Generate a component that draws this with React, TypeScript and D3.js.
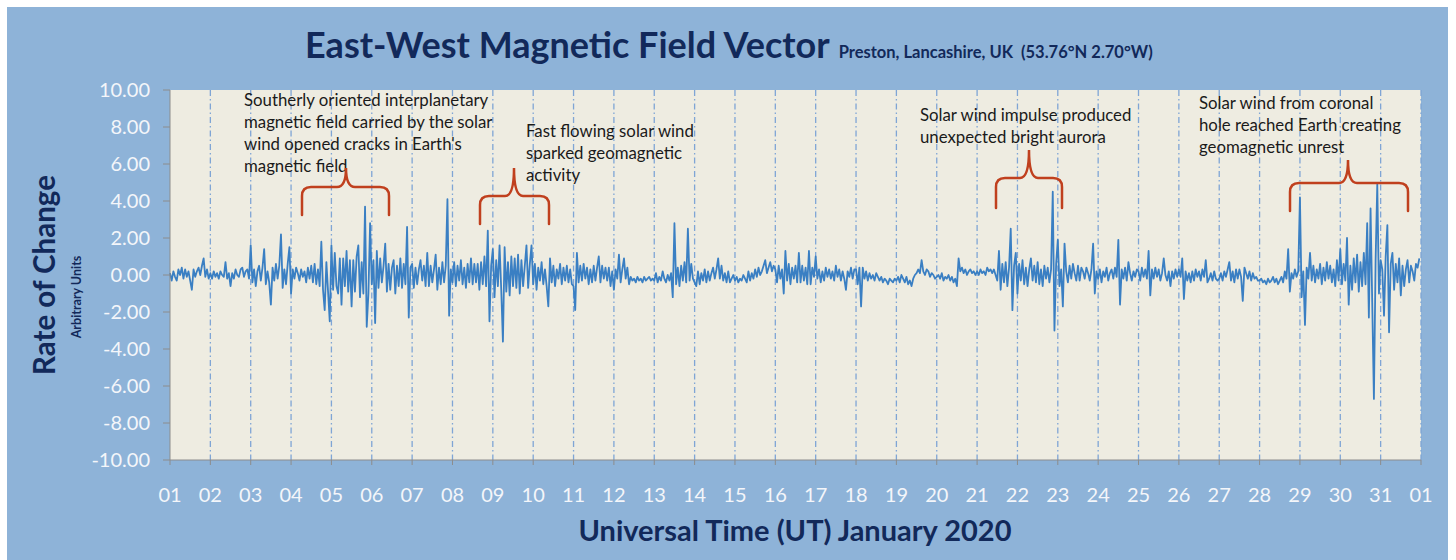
import React from "react";
import * as d3 from "d3";

// ---- Data: East-West rate of change, 24 samples per day ----
const jan01 = [0.1, -0.3, 0.2, -0.1, -0.3, 0.3, 0.0, 0.4, -0.2, 0.3, -0.1, 0.2, -0.3, -0.8, 0.3, -0.1, 0.2, 0.4, 0.0, 0.5, 0.9, -0.1, 0.3, -0.2];
const jan02 = [0.1, -0.2, 0.2, -0.1, 0.1, -0.2, 0.2, 0.0, -0.1, 0.7, -0.2, 0.1, -0.6, 0.1, -0.2, 0.3, 0.0, -0.1, 0.3, 0.4, -0.1, 0.2, 0.3, -0.2];
const jan03 = [1.6, -0.4, 0.3, -0.6, 0.2, 0.5, -0.3, 0.4, 1.4, -0.5, 0.2, -0.4, -1.6, 0.4, -0.3, 0.6, -0.2, 0.5, 2.2, -0.7, 0.3, -0.5, 0.6, 1.5];
const jan04 = [-1.0, 0.3, -0.2, 0.4, 0.1, -0.3, 0.3, -0.1, 0.2, -0.4, 0.4, -0.2, 0.5, -0.4, 0.6, -0.5, 0.3, -0.6, 1.8, -0.8, -1.9, 0.7, -0.9, -2.5];
const jan05 = [1.6, -0.8, 1.2, -0.6, -1.0, 0.9, -1.6, 0.9, -0.6, 1.3, -0.9, 0.8, -1.7, 0.8, -0.9, 1.0, 1.6, -1.2, 0.7, -1.0, 3.7, -2.8, -1.0, 2.8];
const jan06 = [-0.5, 0.8, -2.6, 1.3, -0.7, 0.9, -0.4, 0.5, 1.7, -0.9, 0.6, -0.8, 0.4, 0.8, -1.0, 0.5, -0.6, 0.9, -0.7, 0.6, -0.5, 2.6, -2.3, 0.4];
const jan07 = [0.6, -0.7, 0.4, -0.5, 0.3, 0.8, -0.3, 0.5, -0.6, 1.2, -0.6, 0.5, -0.4, 0.3, 1.1, -0.8, 0.4, -0.5, 0.7, -0.4, 0.5, 4.1, -2.2, 0.3];
const jan08 = [-0.4, 0.7, -0.6, 0.5, -0.3, 0.8, -0.5, 0.4, -0.7, 0.6, -0.4, 0.9, -0.5, 0.6, -0.4, 0.6, -0.8, 0.7, -0.5, 1.0, -0.6, 2.4, -2.5, 0.5];
const jan09 = [1.4, -1.2, 0.8, -0.6, 1.6, -0.8, -3.6, 1.5, -0.9, 0.7, -1.1, 1.0, -0.6, 0.9, -0.7, 1.1, -1.0, 0.8, -0.6, 0.5, 1.6, -0.7, 0.6, 1.6];
const jan10 = [-0.5, 0.6, -0.8, 0.4, -0.3, 0.7, -0.5, 0.3, -0.6, -1.7, 0.9, -0.4, 0.5, -0.6, 0.3, -0.2, 0.6, -0.5, 0.4, -0.3, 0.5, -0.4, 0.3, -0.5];
const jan11 = [-0.6, -1.9, 1.2, -0.4, 0.5, -0.3, 0.6, -0.2, 0.4, -0.5, 0.3, -0.4, 0.5, -0.3, 0.4, 1.0, -0.4, 0.5, -0.2, 0.4, -0.3, 0.4, -0.6, 0.2];
const jan12 = [-0.8, 0.3, -0.2, 1.1, -0.4, 0.3, 0.9, -0.2, 0.4, -0.5, -0.1, -0.3, -0.2, -0.4, -0.1, -0.3, -0.2, -0.4, -0.1, -0.3, -0.2, -0.1, -0.3, -0.2];
const jan13 = [-0.3, 0.1, -0.4, -0.1, -0.3, 0.2, -0.2, -0.4, 0.0, -0.3, 0.1, -1.2, 2.8, -0.5, 0.4, -0.6, 0.5, -0.3, 0.7, -0.4, 2.5, -0.3, 0.6, -0.2];
const jan14 = [-0.4, -0.6, 0.2, -0.5, 0.1, -0.3, 0.3, -0.4, 0.2, -0.3, 0.1, 0.4, -0.2, 0.3, 0.9, -0.2, 0.5, -0.3, 0.1, -0.4, 0.2, -0.4, -0.2, 0.0];
const jan15 = [-0.3, -0.1, -0.4, -0.2, -0.3, 0.0, -0.2, -0.4, 0.2, -0.3, 0.1, -0.2, 0.3, -0.1, 0.4, 0.0, 0.2, 0.5, 0.8, 0.1, 0.4, 0.7, 0.2, 0.5];
const jan16 = [0.3, -0.4, 0.5, -0.2, 0.3, -1.0, 1.3, -0.3, 0.6, -0.5, 0.4, -0.2, 0.5, -0.4, 1.2, -0.4, 0.5, -0.3, 0.4, -0.5, 1.3, -0.5, 0.4, -0.1];
const jan17 = [1.0, -0.2, 0.3, -0.4, 0.2, -0.3, 0.4, -0.1, 0.3, -0.2, 0.2, -0.3, 0.5, -0.1, 0.3, -0.3, 0.2, -0.2, -0.8, 0.2, -0.1, 0.4, -0.2, 0.3];
const jan18 = [0.3, -0.5, 0.4, -1.7, 0.4, -0.2, 0.2, -0.3, 0.1, -0.2, 0.0, -0.3, 0.1, -0.1, -0.3, -0.1, -0.4, -0.2, -0.3, -0.5, -0.2, -0.3, -0.4, -0.2];
const jan19 = [-0.3, -0.1, -0.4, 0.0, -0.2, -0.4, -0.1, -0.5, -0.3, -0.6, -0.2, 0.0, 0.1, 0.3, 0.1, 0.8, 0.2, 0.0, 0.3, 0.2, -0.1, 0.1, 0.0, -0.2];
const jan20 = [-0.1, 0.0, -0.2, 0.1, -0.3, -0.1, -0.2, 0.0, -0.3, -0.1, -0.4, -0.2, -0.6, 0.9, 0.2, 0.4, 0.1, 0.3, 0.0, 0.2, 0.3, 0.1, 0.2, 0.0];
const jan21 = [0.2, 0.0, 0.3, 0.1, 0.2, 0.0, 0.4, 0.2, 0.3, 0.1, 0.3, 0.0, -0.3, 1.3, -0.8, 0.6, -0.4, 0.7, -0.6, 0.4, 2.5, -1.9, 0.5, 1.2];
const jan22 = [-1.0, 0.6, -0.3, 0.8, -0.5, 0.4, -0.6, 0.3, 0.9, -0.3, 0.5, -0.4, 0.7, -0.5, 0.3, -0.6, 0.5, -0.2, 0.4, -0.4, 0.3, 4.5, -3.0, 0.6];
const jan23 = [1.9, -0.6, 0.3, -1.7, 1.7, 0.2, -0.4, 0.5, -0.2, 0.6, 0.1, -0.3, 0.5, -0.3, 0.4, 0.2, -0.2, 0.4, 0.1, -0.3, 0.3, 1.7, -1.0, 0.2];
const jan24 = [-0.2, 0.3, -0.4, 0.2, -0.1, 0.4, -0.3, 0.1, 0.3, -0.2, 0.4, -0.1, 1.9, -1.6, 0.3, -0.2, 0.4, -0.3, 0.7, 0.1, -0.3, 0.2, -0.1, 0.3];
const jan25 = [0.2, -0.3, 0.4, -0.1, 0.3, -0.2, 1.3, -1.1, 0.3, -0.2, 0.4, -0.1, 0.3, -0.3, 0.1, 0.9, 0.0, -0.3, 0.2, -0.6, 0.2, -0.2, 0.3, -0.1];
const jan26 = [0.3, -0.1, 0.9, -1.3, 0.2, -0.3, 0.1, -0.4, 0.2, -0.3, 0.3, -0.1, 0.2, -0.3, 0.3, -0.1, 0.8, -0.4, -0.2, 0.1, -0.3, 0.2, -0.2, -0.3];
const jan27 = [-0.2, 0.1, -0.3, 0.2, -0.1, 0.3, 0.7, -0.3, 0.2, -0.4, 0.3, -0.2, 0.3, -0.1, -1.4, 0.4, 0.1, -0.2, 0.2, -0.3, 0.1, -0.2, -0.1, -0.3];
const jan28 = [-0.3, -0.2, -0.4, -0.3, -0.5, -0.2, -0.4, -0.3, -0.1, -0.4, -0.2, -0.5, -0.3, -0.1, -0.4, 0.2, -0.2, 1.4, -0.9, 0.1, -0.2, 0.3, -0.1, 0.2];
const jan29 = [4.2, -1.2, 0.2, -2.7, 0.4, -0.2, 1.2, -0.3, 0.5, -0.4, 0.3, -0.2, 0.6, -0.5, 0.4, -0.3, 0.7, -0.2, 0.5, -0.4, 0.3, -0.6, 0.8, -0.3];
const jan30 = [1.4, -0.5, 0.6, -0.3, 2.0, -1.6, 0.5, -0.8, 0.9, -0.4, 1.1, -0.9, 0.7, -0.6, 1.2, -0.5, 2.8, -2.3, 3.6, -1.5, -6.7, 0.8, 4.9, -1.0];
const jan31 = [0.8, 0.3, -2.2, 1.0, 2.7, -3.1, 0.6, 1.2, -0.8, 0.6, -0.4, 0.9, -1.1, 0.5, -0.6, 0.3, 0.8, -0.4, 0.5, 0.2, -0.3, 0.6, 0.4, 0.9];

const days = [
  jan01, jan02, jan03, jan04, jan05, jan06, jan07, jan08, jan09, jan10, jan11,
  jan12, jan13, jan14, jan15, jan16, jan17, jan18, jan19, jan20, jan21, jan22,
  jan23, jan24, jan25, jan26, jan27, jan28, jan29, jan30, jan31,
];

const dayLabels = [
  "01", "02", "03", "04", "05", "06", "07", "08", "09", "10", "11", "12", "13", "14", "15", "16",
  "17", "18", "19", "20", "21", "22", "23", "24", "25", "26", "27", "28", "29", "30", "31", "01",
];
const yTicks = [10, 8, 6, 4, 2, 0, -2, -4, -6, -8, -10];

const note1 = ["Southerly oriented interplanetary", "magnetic field carried by the solar", "wind opened cracks in Earth's", "magnetic field"];
const note2 = ["Fast flowing solar wind", "sparked geomagnetic", "activity"];
const note3 = ["Solar wind impulse produced", "unexpected bright aurora"];
const note4 = ["Solar wind from coronal", "hole reached Earth creating", "geomagnetic unrest"];

// ---- layout ----
const W = 1456;
const H = 560;
const PL = 170;
const PR = 1421;
const PT = 90;
const PB = 460;
const NAVY = "#12295a";
const FONT = "Lato, 'Open Sans', sans-serif";

const x = d3.scaleLinear().domain([0, 31]).range([PL, PR]);
const y = d3.scaleLinear().domain([-10, 10]).range([PB, PT]);

type Pt = { t: number; v: number };
const points: Pt[] = [];
days.forEach((arr, d) => {
  const n = arr.length;
  arr.forEach((v, i) => points.push({ t: d + i / n, v }));
});

const lineGen = d3
  .line<Pt>()
  .x((p) => x(p.t))
  .y((p) => y(p.v));

function bracePath(x0: number, x1: number, xc: number, yH: number, yTip: number, yPeak: number) {
  const r = 9;
  return [
    `M${x0},${yTip}`,
    `L${x0},${yH + r}`,
    `Q${x0},${yH} ${x0 + r},${yH}`,
    `L${xc - r},${yH}`,
    `Q${xc},${yH} ${xc},${yPeak}`,
    `Q${xc},${yH} ${xc + r},${yH}`,
    `L${x1 - r},${yH}`,
    `Q${x1},${yH} ${x1},${yH + r}`,
    `L${x1},${yTip}`,
  ].join(" ");
}

const braces = [
  { x0: 302, x1: 389, xc: 346, yH: 187, yTip: 215, yPeak: 168 },
  { x0: 480, x1: 549, xc: 514, yH: 196, yTip: 224, yPeak: 168 },
  { x0: 996, x1: 1062, xc: 1029, yH: 178, yTip: 208, yPeak: 150 },
  { x0: 1290, x1: 1408, xc: 1348, yH: 183, yTip: 211, yPeak: 160 },
];

const notes = [
  { lines: note1, x: 244, y: 106 },
  { lines: note2, x: 526, y: 137 },
  { lines: note3, x: 920, y: 121 },
  { lines: note4, x: 1199, y: 109 },
];

export default function App() {
  const gridDays = d3.range(1, 32);
  return (
    <svg
      width={W}
      height={H}
      style={{ position: "absolute", left: 0, top: 0, display: "block" }}
      fontFamily={FONT}
    >
      <rect x={0} y={0} width={W} height={H} fill="#ffffff" />
      <rect x={7} y={7} width={1441} height={H - 7} fill="#8eb3d8" />

      {/* Title */}
      <text x={305} y={58} fill={NAVY} fontWeight="bold" fontSize={36}>
        East-West Magnetic Field Vector
        <tspan fontSize={16.5} dx={9}>
          Preston, Lancashire, UK{"\u00a0\u00a0"}(53.76°N 2.70°W)
        </tspan>
      </text>

      {/* plot area */}
      <rect x={PL} y={PT} width={PR - PL} height={PB - PT} fill="#eeece1" />

      {/* vertical day gridlines */}
      {gridDays.map((d) => (
        <line
          key={d}
          x1={x(d)}
          x2={x(d)}
          y1={PT}
          y2={PB}
          stroke="#7fa5d5"
          strokeWidth={1.3}
          strokeDasharray="6,3,1.5,3"
        />
      ))}

      {/* data line */}
      <path d={lineGen(points) || ""} fill="none" stroke="#3a7fc3" strokeWidth={1.8} strokeLinejoin="round" />

      {/* axes */}
      <line x1={PL} x2={PL} y1={PT} y2={PB} stroke="#8c8c8c" strokeWidth={1} />
      <line x1={PL} x2={PR} y1={PB} y2={PB} stroke="#8c8c8c" strokeWidth={1} />
      {yTicks.map((v) => (
        <g key={v}>
          <line x1={PL - 7} x2={PL} y1={y(v)} y2={y(v)} stroke="#8c8c8c" />
          <text x={150} y={y(v)} dy="0.35em" textAnchor="end" fill="#f4f6fa" fontSize={20}>
            {v.toFixed(2)}
          </text>
        </g>
      ))}
      {dayLabels.map((lab, i) => (
        <g key={i}>
          <line x1={x(i)} x2={x(i)} y1={PB} y2={PB + 5} stroke="#8c8c8c" />
          <text x={x(i)} y={502} textAnchor="middle" fill="#f4f6fa" fontSize={20}>
            {lab}
          </text>
        </g>
      ))}

      {/* axis titles */}
      <text
        transform={`translate(55,275) rotate(-90)`}
        textAnchor="middle"
        fill={NAVY}
        fontWeight="bold"
        fontSize={29.5}
      >
        Rate of Change
      </text>
      <text
        transform={`translate(81,297) rotate(-90)`}
        textAnchor="middle"
        fill={NAVY}
        fontWeight="bold"
        fontSize={12.5}
      >
        Arbitrary Units
      </text>
      <text x={795} y={541} textAnchor="middle" fill={NAVY} fontWeight="bold" fontSize={29}>
        Universal Time (UT) January 2020
      </text>

      {/* annotations */}
      {notes.map((n, k) => (
        <text key={k} x={n.x} y={n.y} fill="#1a1a1a" fontSize={16.8}>
          {n.lines.map((l, j) => (
            <tspan key={j} x={n.x} y={n.y + j * 22}>
              {l}
            </tspan>
          ))}
        </text>
      ))}
      {braces.map((b, k) => (
        <path
          key={k}
          d={bracePath(b.x0, b.x1, b.xc, b.yH, b.yTip, b.yPeak)}
          fill="none"
          stroke="#c0401e"
          strokeWidth={2.5}
          strokeLinecap="round"
        />
      ))}
    </svg>
  );
}
